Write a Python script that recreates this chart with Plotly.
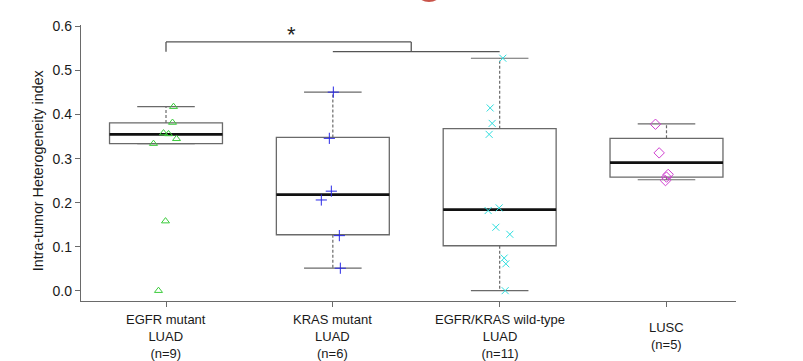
import plotly.graph_objects as go

# ---- data ----
groups = ["EGFR mutant<br>LUAD", "KRAS mutant<br>LUAD", "EGFR/KRAS wild-type<br>LUAD", "LUSC"]
counts = ["(n=9)", "(n=6)", "(n=11)", "(n=5)"]
positions = [1, 2, 3, 4]

q1 = [0.334, 0.127, 0.102, 0.258]
median = [0.355, 0.218, 0.184, 0.291]
q3 = [0.381, 0.348, 0.368, 0.346]
whisk_lo = [0.334, 0.051, 0.0, 0.252]
whisk_hi = [0.418, 0.451, 0.528, 0.379]

egfr_vals = [0.632, 0.418, 0.382, 0.358, 0.356, 0.345, 0.334, 0.158, 0.0]
egfr_jit = [-0.051, 0.045, 0.039, -0.015, 0.015, 0.063, -0.075, -0.003, -0.045]
kras_vals = [0.451, 0.346, 0.226, 0.206, 0.125, 0.051]
kras_jit = [0.003, -0.021, -0.009, -0.069, 0.039, 0.045]
wt_vals = [0.528, 0.415, 0.380, 0.355, 0.182, 0.188, 0.144, 0.128, 0.074, 0.061, 0.0]
wt_jit = [0.019, -0.057, -0.045, -0.063, -0.069, -0.003, -0.023, 0.061, 0.027, 0.037, 0.033]
lusc_vals = [0.378, 0.313, 0.264, 0.258, 0.250]
lusc_jit = [-0.066, -0.044, 0.010, 0.0, -0.006]

yticks = [0.0, 0.1, 0.2, 0.3, 0.4, 0.5, 0.6]

# ---- styles ----
BOX_W = 0.677
CAP_W = 0.345
LINE_C = "#6a6a6a"
FONT = "Liberation Sans, Arial, sans-serif"

fig = go.Figure()

# box bodies
for i, p in enumerate(positions):
    fig.add_trace(go.Box(
        x=[p], q1=[q1[i]], median=[median[i]], q3=[q3[i]],
        lowerfence=[q1[i]], upperfence=[q3[i]],
        width=BOX_W, whiskerwidth=0,
        line=dict(color=LINE_C, width=1.3), fillcolor="rgba(255,255,255,0)",
        boxpoints=False, showlegend=False, hoverinfo="skip",
    ))

# whiskers (dashed), caps and medians
wx, wy, cx, cy, mx, my = [], [], [], [], [], []
for i, p in enumerate(positions):
    wx += [p, p, None, p, p, None]
    wy += [q3[i], whisk_hi[i], None, q1[i], whisk_lo[i], None]
    cx += [p - CAP_W / 2, p + CAP_W / 2, None, p - CAP_W / 2, p + CAP_W / 2, None]
    cy += [whisk_hi[i], whisk_hi[i], None, whisk_lo[i], whisk_lo[i], None]
    mx += [p - BOX_W / 2, p + BOX_W / 2, None]
    my += [median[i], median[i], None]

fig.add_trace(go.Scatter(x=wx, y=wy, mode="lines", line=dict(color=LINE_C, width=1.2, dash="3px,2px"),
                         showlegend=False, hoverinfo="skip"))
fig.add_trace(go.Scatter(x=cx, y=cy, mode="lines", line=dict(color=LINE_C, width=1.2),
                         showlegend=False, hoverinfo="skip"))
fig.add_trace(go.Scatter(x=mx, y=my, mode="lines", line=dict(color="#111111", width=2.8),
                         showlegend=False, hoverinfo="skip"))

# points
pts = [
    (egfr_vals, egfr_jit, 1, "triangle-up-open", "#3ccc3c", 7),
    (kras_vals, kras_jit, 2, "cross-thin-open", "#2a2ae6", 8),
    (wt_vals, wt_jit, 3, "x-thin-open", "#30dede", 7),
    (lusc_vals, lusc_jit, 4, "diamond-open", "#d040d0", 8),
]
for vals, jit, p, sym, col, sz in pts:
    fig.add_trace(go.Scatter(
        x=[p + j for j in jit], y=vals, mode="markers",
        marker=dict(symbol=sym, size=sz, color=col, line=dict(color=col, width=1)),
        showlegend=False, cliponaxis=False, hoverinfo="skip",
    ))

# x labels as annotations, vertically centred blocks like R's multi-line axis labels
annotations = []
for p, g, n in zip(positions, groups, counts):
    annotations.append(dict(x=p, xref="x", y=0, yref="paper", text=g + "<br>" + n, showarrow=False,
                            yanchor="middle", xanchor="center", yshift=-35, borderpad=0,
                            font=dict(family=FONT, size=13, color="#1a1a1a")))

# y axis title
annotations.append(dict(x=0, xref="paper", y=0.47, yref="paper", xshift=-43, text="Intra-tumor Heterogeneity index",
                        textangle=-90, showarrow=False, xanchor="center", yanchor="middle",
                        font=dict(family=FONT, size=14.3, color="#1a1a1a")))
# significance asterisk
annotations.append(dict(x=1.75, y=0.581, xref="x", yref="y", text="*", showarrow=False,
                        font=dict(family=FONT, size=22, color="#222222")))

shapes = [
    dict(type="line", xref="x", yref="y", x0=1, x1=1, y0=0.543, y1=0.565, line=dict(color="#555", width=1.3)),
    dict(type="line", xref="x", yref="y", x0=1, x1=2.47, y0=0.565, y1=0.565, line=dict(color="#555", width=1.3)),
    dict(type="line", xref="x", yref="y", x0=2.47, x1=2.47, y0=0.543, y1=0.565, line=dict(color="#555", width=1.3)),
    dict(type="line", xref="x", yref="y", x0=2, x1=3, y0=0.543, y1=0.543, line=dict(color="#555", width=1.3)),
    # partially visible red dot at the top edge of the image
    dict(type="circle", xref="paper", yref="paper", x0=(429 - 15 - 81) / 655, x1=(429 + 15 - 81) / 655,
         y0=(301 + 13 - 15) / 276, y1=(301 + 13 + 15) / 276, fillcolor="#c9544a", line=dict(width=0)),
]

fig.update_layout(
    width=803, height=361,
    margin=dict(l=81, r=67, t=25, b=60),
    paper_bgcolor="white", plot_bgcolor="white",
    showlegend=False,
    annotations=annotations, shapes=shapes,
    xaxis=dict(range=[0.4905, 4.4166], tickvals=positions, ticktext=["", "", "", ""],
               showline=True, linecolor=LINE_C, linewidth=1.3, ticks="outside", ticklen=5,
               tickcolor=LINE_C, showgrid=False, zeroline=False, fixedrange=True),
    yaxis=dict(range=[-0.0235, 0.6035], tickvals=yticks, tickformat=".1f",
               showline=True, linecolor=LINE_C, linewidth=1.3, ticks="outside", ticklen=5,
               tickcolor=LINE_C, showgrid=False, zeroline=False,
               tickfont=dict(family=FONT, size=14, color="#1a1a1a")),
)

fig.write_html("out.html", config={"displayModeBar": False},
               post_script="document.body.style.margin='0';document.body.style.overflow='hidden';")
